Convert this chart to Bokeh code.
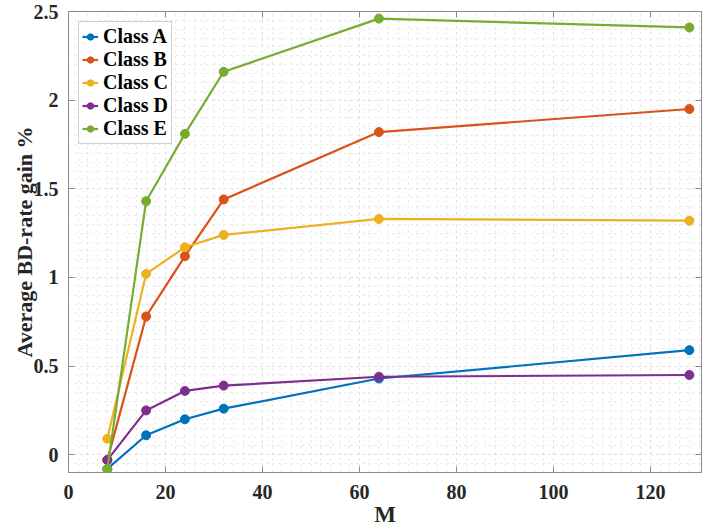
from bokeh.plotting import figure
from bokeh.models import (LinearAxis, SingleIntervalTicker, Range1d, Legend, LegendItem)
from bokeh.embed import file_html
from bokeh.resources import INLINE

M = [8, 16, 24, 32, 64, 128]
class_a = [-0.08, 0.11, 0.20, 0.26, 0.43, 0.59]
class_b = [-0.03, 0.78, 1.12, 1.44, 1.82, 1.95]
class_c = [0.09, 1.02, 1.17, 1.24, 1.33, 1.32]
class_d = [-0.03, 0.25, 0.36, 0.39, 0.44, 0.45]
class_e = [-0.08, 1.43, 1.81, 2.16, 2.46, 2.41]
series_names = ["Class A", "Class B", "Class C", "Class D", "Class E"]
colors = ["#0072BD", "#D95319", "#EDB120", "#7E2F8E", "#77AC30"]
y_ticks = [0, 0.5, 1, 1.5, 2, 2.5]
y_tick_labels = ["0", "0.5", "1", "1.5", "2", "2.5"]

FONT = "Liberation Serif"
AX = "#8c8c8c"

p = figure(width=705, height=529, output_backend="svg", toolbar_location=None,
           x_range=Range1d(0, 130.5), y_range=Range1d(-0.1, 2.5),
           min_border_left=68, min_border_right=1, min_border_top=11, min_border_bottom=55,
           background_fill_color="white", border_fill_color="white")
p.outline_line_color = AX

xt = SingleIntervalTicker(interval=20, num_minor_ticks=10)
yt = SingleIntervalTicker(interval=0.5, num_minor_ticks=10)
p.xaxis.ticker = xt
p.yaxis.ticker = yt
p.yaxis.major_label_overrides = {t: l for t, l in zip(y_ticks, y_tick_labels)}

for ax in (p.xaxis[0], p.yaxis[0]):
    ax.axis_line_color = AX
    ax.major_tick_line_color = AX
    ax.major_tick_in = 6
    ax.major_tick_out = 0
    ax.minor_tick_line_color = None
    ax.major_label_text_font = FONT
    ax.major_label_text_font_style = "bold"
    ax.major_label_text_font_size = "20px"
    ax.major_label_text_color = "#262626"
    ax.axis_label_text_font = FONT
    ax.axis_label_text_font_style = "bold"
    ax.axis_label_text_font_size = "23px"
    ax.axis_label_text_color = "#262626"

p.xaxis.axis_label = "M"
p.xaxis.major_label_standoff = 8
p.xaxis.axis_label_standoff = 0
p.yaxis.axis_label = "Average BD-rate gain %"
p.yaxis.axis_label_text_font_size = "22px"
p.yaxis.major_label_standoff = 6
p.yaxis.axis_label_standoff = -6

for loc, tk in (("above", xt), ("right", yt)):
    a = LinearAxis(ticker=tk, axis_line_color=None, major_tick_line_color=AX,
                   major_tick_in=6, major_tick_out=0, minor_tick_line_color=None,
                   major_label_text_font_size="1px", major_label_text_color=None,
                   major_label_standoff=0, axis_label_standoff=0)
    p.add_layout(a, loc)

for g in (p.xgrid[0], p.ygrid[0]):
    g.grid_line_color = "#d9d9d9"
    g.grid_line_dash = "dotted"
    g.grid_line_width = 1
    g.minor_grid_line_color = "#e3e3e3"
    g.minor_grid_line_dash = "dotted"
    g.minor_grid_line_width = 1

items = []
for name, ys, c in zip(series_names, [class_a, class_b, class_c, class_d, class_e], colors):
    l = p.line(M, ys, line_color=c, line_width=2.2)
    s = p.scatter(M, ys, size=9, fill_color=c, line_color=c)
    items.append(LegendItem(label=name, renderers=[l, s]))

legend = Legend(items=items, location="top_left", margin=10,
                label_text_font=FONT, label_text_font_style="bold",
                label_text_font_size="20px", label_text_color="#000000",
                border_line_color="#a0a0a0", border_line_width=1,
                background_fill_color="white", background_fill_alpha=1,
                glyph_width=16, glyph_height=19, spacing=0, padding=3,
                label_standoff=5, label_height=19)
p.add_layout(legend)

open("out.html", "w").write(file_html(p, INLINE))
